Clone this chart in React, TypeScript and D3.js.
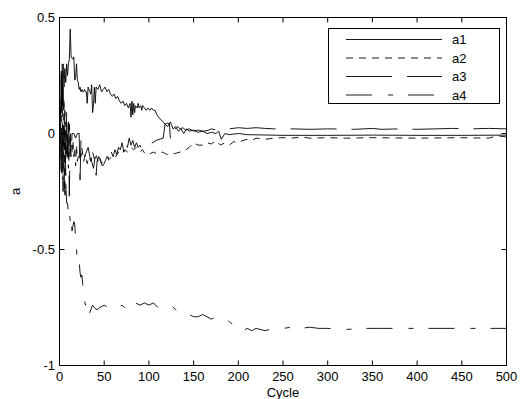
import React from "react";
import * as d3 from "d3";

const xTicks = [0, 50, 100, 150, 200, 250, 300, 350, 400, 450, 500];
const yTicks = [-1, -0.5, 0, 0.5];
const yTickLabels = ["-1", "-0.5", "0", "0.5"];
const seriesNames = ["a1", "a2", "a3", "a4"];

const a1Cycles = [1,2,3,4,5,6,7,8,9,10,11,12,13,14,15,16,17,18,19,20,21,22,23,24,25,26,27,28,29,30,31,32,33,34,35,36,37,38,39,40,41,43,45,47,49,51,53,55,57,59,61,63,65,67,69,71,73,75,77,79,80,81,82,83,84,85,87,88,89,91,92,93,95,97,99,101,103,105,107,109,111,113,115,118,121,124,127,130,133,136,139,142,145,150,155,160,165,170,175,178,181,185,190,200,210,250,300,350,400,450,500];
const a1Values = [0.05,0.27,0.12,0.3,0.2,0.28,0.22,0.3,0.25,0.3,0.32,0.45,0.33,0.325,0.32,0.33,0.23,0.24,0.3,0.23,0.22,0.19,0.2,0.18,0.19,0.18,0.18,0.19,0.18,0.18,0.13,0.2,0.19,0.18,0.17,0.21,0.09,0.12,0.2,0.13,0.2,0.19,0.21,0.18,0.19,0.2,0.18,0.19,0.17,0.16,0.17,0.15,0.16,0.14,0.13,0.14,0.12,0.13,0.11,0.13,0.07,0.14,0.08,0.13,0.09,0.12,0.11,0.13,0.11,0.12,0.1,0.12,0.11,0.1,0.11,0.1,0.11,0.1,0.1,0.08,0.07,0.06,0.055,0.04,0.03,0.05,0.02,0.03,0.01,0.02,0.0,0.02,0.01,0.015,0.005,0.01,0.0,0.005,0.0,0.01,-0.025,0.0,-0.005,0.0,-0.005,-0.008,-0.008,-0.007,-0.008,-0.008,-0.007,-0.008];

const a2Cycles = [1,2,3,4,5,6,7,8,9,10,11,12,13,14,15,16,17,18,19,20,22,24,25,27,29,31,33,35,37,39,41,43,45,47,50,53,56,60,63,66,70,73,76,80,83,86,90,93,96,100,105,110,115,120,125,130,135,140,145,150,155,160,165,170,175,180,185,190,195,200,205,210,215,220,230,240,250,260,270,280,300,320,350,400,450,480,490,500];
const a2Values = [0.1,-0.15,0.3,-0.2,0.15,-0.25,0.05,-0.1,0.0,-0.15,0.05,-0.1,-0.05,-0.08,-0.03,-0.1,-0.06,-0.14,-0.05,-0.12,-0.08,-0.1,-0.06,-0.12,-0.09,-0.13,-0.1,-0.12,-0.08,-0.11,-0.09,-0.12,-0.1,-0.13,-0.12,-0.1,-0.11,-0.09,-0.1,-0.08,-0.09,-0.07,-0.08,-0.06,-0.07,-0.06,-0.08,-0.07,-0.09,-0.09,-0.08,-0.09,-0.08,-0.09,-0.09,-0.085,-0.08,-0.075,-0.06,-0.04,-0.05,-0.05,-0.04,-0.045,-0.03,-0.05,-0.04,-0.05,-0.035,-0.04,-0.03,-0.025,-0.03,-0.02,-0.025,-0.02,-0.018,-0.02,-0.015,-0.02,-0.018,-0.02,-0.018,-0.02,-0.018,-0.02,-0.01,-0.015];

const a3Cycles = [1,2,3,4,5,6,7,8,9,10,11,12,13,14,16,18,20,22,23,24,26,28,30,32,34,36,38,40,41,42,44,46,48,50,52,54,56,58,60,62,64,66,68,70,72,74,76,78,80,82,84,86,88,90,92,94,96,100,108,116,118,121,123,124,127,128,130,132,135,138,141,145,150,155,160,165,170,175,180,185,190,200,210,220,230,240,260,280,300,330,340,350,360,380,400,420,440,460,480,500];
const a3Values = [-0.05,0.25,-0.2,0.2,-0.15,0.1,-0.18,0.1,-0.1,0.05,-0.27,0.0,-0.1,0.0,0.0,-0.02,0.0,0.0,-0.2,-0.03,-0.05,-0.1,-0.08,-0.06,-0.1,-0.12,-0.15,-0.1,-0.18,-0.12,-0.1,-0.12,-0.14,-0.13,-0.11,-0.1,-0.13,-0.08,-0.1,-0.07,-0.09,-0.06,-0.07,-0.04,-0.08,-0.03,-0.06,-0.02,-0.05,-0.03,-0.06,-0.04,-0.06,-0.05,-0.07,-0.06,-0.06,-0.05,-0.03,-0.02,0.04,0.045,0.04,-0.02,-0.02,0.03,0.02,0.03,0.02,0.025,0.015,0.02,0.01,0.015,0.01,0.012,0.02,0.015,0.02,0.025,0.02,0.025,0.022,0.025,0.022,0.02,0.02,0.018,0.02,0.018,0.02,0.022,0.018,0.02,0.018,0.02,0.022,0.02,0.022,0.02];

const a4Cycles = [1,2,3,4,5,6,7,8,9,10,11,12,13,14,15,16,17,18,19,20,21,22,23,24,25,26,27,28,29,30,31,32,33,35,37,39,42,45,50,55,60,65,70,75,80,85,90,95,100,105,110,115,120,125,130,135,140,145,150,155,160,165,170,175,180,185,190,195,200,205,210,215,220,230,240,250,260,270,280,290,300,320,340,360,400,450,500];
const a4Values = [-0.05,-0.2,0.0,-0.25,-0.1,-0.3,-0.2,-0.3,-0.3,-0.35,-0.33,-0.38,-0.36,-0.42,-0.4,-0.38,-0.39,-0.45,-0.5,-0.55,-0.56,-0.55,-0.6,-0.62,-0.61,-0.65,-0.7,-0.72,-0.74,-0.73,-0.76,-0.77,-0.78,-0.76,-0.74,-0.75,-0.76,-0.75,-0.74,-0.75,-0.74,-0.75,-0.74,-0.76,-0.75,-0.73,-0.74,-0.73,-0.74,-0.73,-0.75,-0.75,-0.74,-0.74,-0.76,-0.77,-0.78,-0.78,-0.79,-0.79,-0.78,-0.79,-0.8,-0.79,-0.8,-0.8,-0.81,-0.83,-0.84,-0.85,-0.84,-0.85,-0.84,-0.85,-0.84,-0.84,-0.835,-0.84,-0.835,-0.84,-0.84,-0.845,-0.84,-0.84,-0.84,-0.84,-0.84];

const W = 523, H = 399;
const L = 59.5, R = 506.5, T = 17.5, B = 365.5;
const dashes = ["", "7 6", "46 15", "26 16 5 15"];
const FONT = "'Liberation Sans', Arial, sans-serif";
const FS = 13;

export default function App() {
  const x = d3.scaleLinear().domain([0, 500]).range([L, R]);
  const y = d3.scaleLinear().domain([-1, 0.5]).range([B, T]);
  const line = d3.line<[number, number]>().x(d => x(d[0])).y(d => y(d[1]));
  const series = [
    d3.zip(a1Cycles, a1Values),
    d3.zip(a2Cycles, a2Values),
    d3.zip(a3Cycles, a3Values),
    d3.zip(a4Cycles, a4Values),
  ] as [number, number][][];
  const tl = 5;
  const rowY = (i: number) => 39.5 + i * 18.5;
  return (
    <svg width={W} height={H} style={{ position: "absolute", left: 0, top: 0, background: "#fff" }}>
      <rect x={0} y={0} width={W} height={H} fill="#fff" />
      <defs>
        <clipPath id="pc"><rect x={L} y={T} width={R - L} height={B - T} /></clipPath>
      </defs>
      <g clipPath="url(#pc)">
        {series.map((s, i) => (
          <path key={i} d={line(s) || ""} fill="none" stroke="#000" strokeWidth={0.9} strokeDasharray={dashes[i] || undefined} />
        ))}
      </g>
      <rect x={L} y={T} width={R - L} height={B - T} fill="none" stroke="#000" strokeWidth={1} />
      {xTicks.map(t => (
        <g key={"x" + t}>
          <line x1={x(t)} x2={x(t)} y1={B} y2={B - tl} stroke="#000" />
          <line x1={x(t)} x2={x(t)} y1={T} y2={T + tl} stroke="#000" />
          <text x={x(t)} y={380.5} fontSize={FS} fontFamily={FONT} textAnchor="middle">{t}</text>
        </g>
      ))}
      {yTicks.map((t, i) => (
        <g key={"y" + t}>
          <line x1={L} x2={L + tl} y1={y(t)} y2={y(t)} stroke="#000" />
          <line x1={R} x2={R - tl} y1={y(t)} y2={y(t)} stroke="#000" />
          <text x={55} y={y(t) + 4.5} fontSize={FS} fontFamily={FONT} textAnchor="end">{yTickLabels[i]}</text>
        </g>
      ))}
      <text x={(L + R) / 2} y={397} fontSize={FS} fontFamily={FONT} textAnchor="middle">Cycle</text>
      <text transform={`translate(20,${(T + B) / 2}) rotate(-90)`} fontSize={FS} fontFamily={FONT} textAnchor="middle">a</text>
      <rect x={328.5} y={28.5} width={171} height={75} fill="#fff" stroke="#000" strokeWidth={1} />
      {seriesNames.map((n, i) => (
        <g key={n}>
          <line x1={346} x2={442} y1={rowY(i)} y2={rowY(i)} stroke="#000" strokeWidth={0.9} strokeDasharray={dashes[i] || undefined} />
          <text x={452} y={rowY(i) + 4.5} fontSize={FS} fontFamily={FONT}>{n}</text>
        </g>
      ))}
    </svg>
  );
}
